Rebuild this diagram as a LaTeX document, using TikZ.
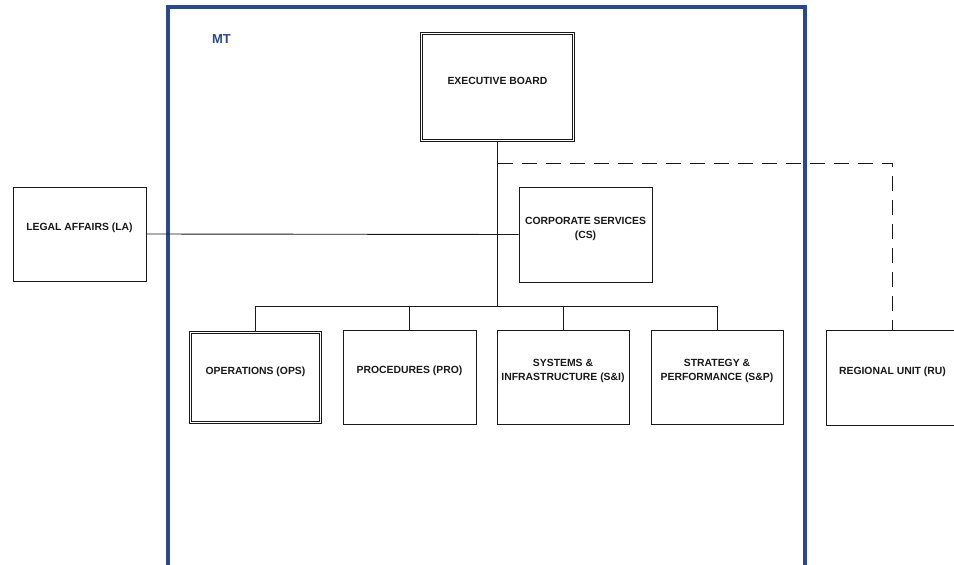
\documentclass[tikz,border=0pt]{standalone}
\usepackage{fontspec}
\setmainfont{Liberation Sans}
\definecolor{frameblue}{RGB}{44,72,140}
\definecolor{ink}{RGB}{25,25,25}
\begin{document}
\begin{tikzpicture}[x=1pt,y=-1pt,
  box/.style={draw=ink,line width=1pt,fill=white,inner sep=0pt},
  dbox/.style={draw=ink,line width=0.8pt,double=white,double distance=1.6pt,inner sep=0pt},
  lbl/.style={font=\bfseries\fontsize{10.4}{14}\selectfont,text=ink,align=center,yshift=6pt},
  conn/.style={draw=ink,line width=0.9pt},
  dconn/.style={draw=ink,line width=0.9pt,dash pattern=on 15pt off 9pt}]
\useasboundingbox (0,0) rectangle (954,565);
% MT frame
\draw[frameblue,line width=3.2pt] (168,580) -- (168,7) -- (805,7) -- (805,580);
\node[font=\bfseries\fontsize{13}{15}\selectfont,text=frameblue] (mt) at (221.5,39) {MT};
% boxes
\node[dbox,minimum width=152pt,minimum height=107pt,label={[lbl]center:EXECUTIVE BOARD}] (eb) at (497.5,87) {};
\node[box,minimum width=133pt,minimum height=95pt,label={[lbl]center:CORPORATE SERVICES\\(CS)}] (cs) at (585.5,234.5) {};
\node[box,minimum width=133pt,minimum height=94pt,label={[lbl]center:LEGAL AFFAIRS (LA)}] (la) at (79.5,234) {};
\node[dbox,minimum width=130pt,minimum height=90pt,label={[lbl]center:OPERATIONS (OPS)}] (ops) at (255.5,377.5) {};
\node[box,minimum width=133pt,minimum height=94pt,label={[lbl]center:PROCEDURES (PRO)}] (pro) at (409.5,377) {};
\node[box,minimum width=132pt,minimum height=94pt,label={[lbl]center:SYSTEMS \&\\INFRASTRUCTURE (S\&I)}] (si) at (563,377) {};
\node[box,minimum width=132pt,minimum height=94pt,label={[lbl]center:STRATEGY \&\\PERFORMANCE (S\&P)}] (sp) at (717,377) {};
\node[box,minimum width=133pt,minimum height=95pt,label={[lbl]center:REGIONAL UNIT (RU)}] (ru) at (892.5,377.5) {};
% connector points
\coordinate (bus) at (497.5,306);
\coordinate (dtop) at (497.5,163);
% connectors
\draw[conn] (eb.south) -- (bus);
\draw[conn] (la.east) -- (cs.west);
\draw[conn] (ops.north) -- (ops.north |- bus) -- (sp.north |- bus) -- (sp.north);
\draw[conn] (pro.north) -- (pro.north |- bus);
\draw[conn] (si.north) -- (si.north |- bus);
\draw[dconn] (dtop) -- (ru.north |- dtop) -- (ru.north);
\end{tikzpicture}
\end{document}
